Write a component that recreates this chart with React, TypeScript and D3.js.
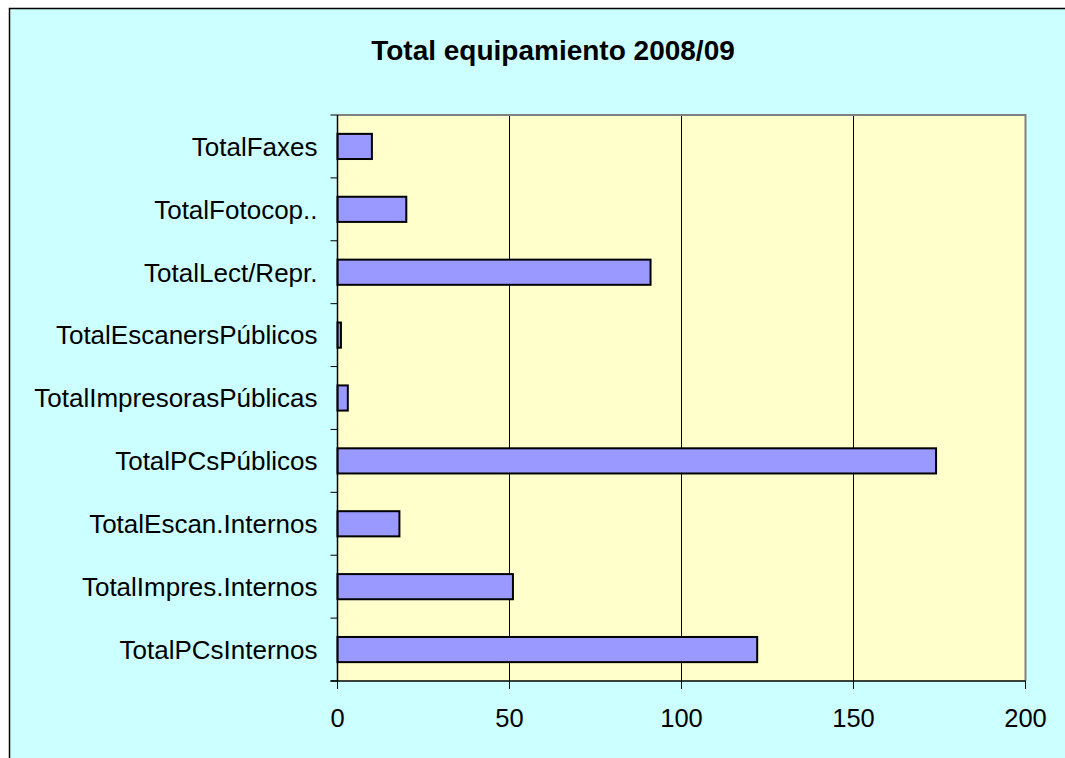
import * as d3 from "d3";
import React from "react";
import { useEffect, useRef } from "react";

// categories top -> bottom as drawn
const categories = [
    "TotalFaxes",
    "TotalFotocop..",
    "TotalLect/Repr.",
    "TotalEscanersPúblicos",
    "TotalImpresorasPúblicas",
    "TotalPCsPúblicos",
    "TotalEscan.Internos",
    "TotalImpres.Internos",
    "TotalPCsInternos",
];
const values = [10, 20, 91, 1, 3, 174, 18, 51, 122];
const xTicks = [0, 50, 100, 150, 200];
const title = "Total equipamiento 2008/09";

function drawChart(node: SVGSVGElement | null) {
    const width = 1065;
    const height = 758;
    const font = "'Liberation Sans', Arial, sans-serif";

    let svg = d3.select(node)
        .attr("width", width)
        .attr("height", height)
        .style("display", "block");

    svg.selectAll("*").remove();

    let margin = { top: 115, right: 39.5, bottom: 77, left: 337.5 };

    // chart area background (right/bottom edges run off the picture)
    svg.append("rect")
        .attr("x", 9.5)
        .attr("y", 8.5)
        .attr("width", width + 20)
        .attr("height", height + 20)
        .attr("fill", "#CCFFFF")
        .attr("stroke", "#000")
        .attr("stroke-width", 1.5);

    let x = d3.scaleLinear()
        .domain([0, 200])
        .range([margin.left, width - margin.right]);

    let y = d3.scaleBand()
        .domain(categories)
        .range([margin.top, height - margin.bottom])
        .paddingInner(0.6)
        .paddingOuter(0.3);

    let bandStep = y.step();

    // plot area
    svg.append("rect")
        .attr("x", margin.left)
        .attr("y", margin.top)
        .attr("width", x(200) - margin.left)
        .attr("height", height - margin.bottom - margin.top)
        .attr("fill", "#FFFFCC");

    // gridlines
    svg.selectAll(".grid")
        .data(xTicks.slice(1, -1))
        .enter().append("line")
        .attr("x1", (d) => x(d))
        .attr("x2", (d) => x(d))
        .attr("y1", margin.top)
        .attr("y2", height - margin.bottom)
        .attr("stroke", "#000")
        .attr("stroke-width", 1);

    // plot border top/right (gray)
    svg.append("path")
        .attr("d", `M${margin.left},${margin.top}H${x(200)}V${height - margin.bottom}`)
        .attr("fill", "none")
        .attr("stroke", "#808080")
        .attr("stroke-width", 2);

    // bars
    svg.selectAll(".bar")
        .data(values)
        .enter().append("rect")
        .attr("class", "bar")
        .attr("x", margin.left)
        .attr("y", (d, i) => y(categories[i]) as number)
        .attr("width", (d) => x(d) - margin.left)
        .attr("height", y.bandwidth())
        .attr("fill", "#9999FF")
        .attr("stroke", "#000")
        .attr("stroke-width", 2);

    // y axis
    let yAxis = svg.append("g");
    yAxis.append("line")
        .attr("x1", margin.left)
        .attr("x2", margin.left)
        .attr("y1", margin.top)
        .attr("y2", height - margin.bottom)
        .attr("stroke", "#000")
        .attr("stroke-width", 1.5);
    let bounds = d3.range(categories.length + 1).map((i) => margin.top + i * bandStep);
    yAxis.selectAll(".ytick")
        .data(bounds)
        .enter().append("line")
        .attr("x1", margin.left - 7)
        .attr("x2", margin.left)
        .attr("y1", (d) => d)
        .attr("y2", (d) => d)
        .attr("stroke", "#000")
        .attr("stroke-width", 1);
    yAxis.selectAll(".ylabel")
        .data(categories)
        .enter().append("text")
        .attr("x", margin.left - 20)
        .attr("y", (d) => (y(d) as number) + y.bandwidth() / 2)
        .attr("dy", "0.36em")
        .attr("text-anchor", "end")
        .style("font-family", font)
        .style("font-size", "26px")
        .attr("fill", "#000")
        .text((d) => d);

    // x axis
    let xAxis = svg.append("g");
    xAxis.append("line")
        .attr("x1", margin.left - 7)
        .attr("x2", x(200))
        .attr("y1", height - margin.bottom)
        .attr("y2", height - margin.bottom)
        .attr("stroke", "#000")
        .attr("stroke-width", 1.5);
    xAxis.selectAll(".xtick")
        .data(xTicks)
        .enter().append("line")
        .attr("x1", (d) => x(d))
        .attr("x2", (d) => x(d))
        .attr("y1", height - margin.bottom)
        .attr("y2", height - margin.bottom + 8)
        .attr("stroke", "#000")
        .attr("stroke-width", 1);
    xAxis.selectAll(".xlabel")
        .data(xTicks)
        .enter().append("text")
        .attr("x", (d) => x(d))
        .attr("y", height - margin.bottom + 46)
        .attr("text-anchor", "middle")
        .style("font-family", font)
        .style("font-size", "25.5px")
        .attr("fill", "#000")
        .text((d) => d);

    // title
    svg.append("text")
        .attr("x", 553)
        .attr("y", 60)
        .attr("text-anchor", "middle")
        .style("font-family", font)
        .style("font-size", "28px")
        .style("font-weight", "bold")
        .attr("fill", "#000")
        .text(title);
}

export default function App() {
    const svg = useRef<SVGSVGElement>(null);
    useEffect(() => {
        drawChart(svg.current);
    });

    return (
        <div style={{ position: "absolute", left: 0, top: 0, width: 1065, height: 758, overflow: "hidden" }}>
            <svg ref={svg}></svg>
        </div>
    );
}
